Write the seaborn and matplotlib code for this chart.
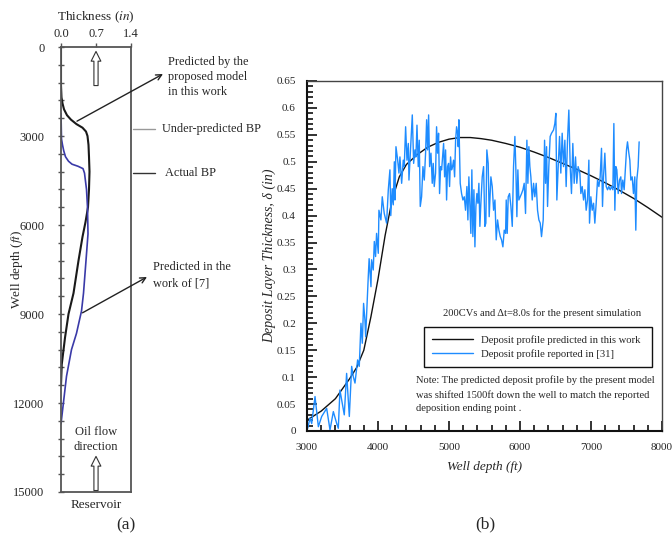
import matplotlib
matplotlib.use('Agg')
import seaborn as sns
from matplotlib import pyplot as plt
from matplotlib.ticker import MultipleLocator, FuncFormatter

# ---- panel (a): deposit thickness along the whole well ----
a_depth_this_work = [0, 1300, 1700, 1900, 2100, 2300, 2450, 2600, 2720, 2850, 3000, 3300, 3700,
                     4200, 4800, 5400, 5900, 6400, 7200, 8300, 9000, 9800, 10700, 11400]
a_thick_this_work = [0, 0, 0.01, 0.03, 0.06, 0.12, 0.20, 0.31, 0.43, 0.50, 0.53, 0.55, 0.56,
                     0.57, 0.56, 0.54, 0.49, 0.43, 0.35, 0.25, 0.15, 0.08, 0.015, 0]
a_depth_ref7 = [2250, 3100, 3300, 3500, 3700, 3850, 3950, 4020, 4100, 4250, 4800, 5400, 6300,
                7200, 8300, 8900, 9650, 10200, 11100, 12700]
a_thick_ref7 = [0, 0.01, 0.03, 0.055, 0.09, 0.15, 0.22, 0.34, 0.44, 0.47, 0.51, 0.53, 0.54,
                0.50, 0.45, 0.41, 0.31, 0.21, 0.11, 0]
a_depth_ticks = [0, 3000, 6000, 9000, 12000, 15000]
a_thick_ticks = [0.0, 0.7, 1.4]
under_bp_depth = 2760
actual_bp_depth = 4250

# ---- panel (b): model vs. reported field profile ----
b_depth_model = [3000, 3200, 3400, 3600, 3700, 3800, 3900, 4000, 4100, 4200, 4300, 4400, 4550,
                 4700, 4850, 5000, 5150, 5300, 5450, 5600, 5800, 6000, 6200, 6400, 6600, 6800,
                 7000, 7200, 7400, 7600, 7800, 8000]
b_thick_model = [0.020, 0.037, 0.060, 0.097, 0.118, 0.150, 0.212, 0.282, 0.363, 0.430, 0.472,
                 0.495, 0.513, 0.527, 0.536, 0.542, 0.545, 0.545, 0.543, 0.540, 0.534, 0.527,
                 0.518, 0.508, 0.497, 0.486, 0.474, 0.461, 0.447, 0.432, 0.415, 0.397]

b_depth_field = [
    3010, 3042, 3066, 3113, 3160, 3207, 3277, 3324, 3371, 3418, 3441, 3464, 3497, 3525, 3558,
    3596, 3629, 3652, 3676, 3713, 3736, 3760, 3779, 3797, 3816, 3826, 3840, 3863, 3875, 3901,
    3910, 3933, 3948, 3966, 3980, 4004, 4013, 4041, 4060, 4088, 4121, 4145, 4168, 4180, 4200,
    4215, 4230,
    4239, 4253, 4277, 4295, 4309, 4333, 4356, 4370, 4389, 4408, 4427, 4436, 4455, 4483, 4502,
    4520, 4534, 4549, 4567, 4581, 4595, 4614, 4633, 4652, 4670, 4685, 4699, 4713, 4727, 4746,
    4764, 4778, 4792, 4811, 4825, 4839, 4853, 4867, 4882, 4896, 4910, 4924, 4938, 4952, 4966,
    4980, 4994, 5008, 5022, 5036, 5050, 5064, 5079, 5093, 5107, 5121, 5130, 5139, 5158, 5177,
    5196, 5215, 5233, 5252, 5266, 5280, 5294, 5308, 5322, 5336, 5351, 5365, 5379, 5393, 5407,
    5421, 5435, 5449, 5468, 5487, 5505, 5519, 5533, 5552, 5566,
    5590, 5609, 5628, 5647, 5665, 5684, 5703, 5722, 5740, 5759, 5778, 5797, 5806, 5820, 5834,
    5853, 5872, 5891, 5909, 5928, 5942, 5956, 5970, 5984, 6003, 6022, 6041, 6059, 6078, 6097,
    6111, 6125, 6139, 6153, 6172, 6191, 6209, 6228, 6247, 6266, 6285, 6303, 6327, 6346, 6360,
    6374, 6388, 6406, 6425, 6444, 6472, 6491, 6505, 6519, 6538, 6557, 6575, 6594, 6613, 6632,
    6650, 6669, 6688, 6707, 6725, 6744, 6763, 6782, 6800, 6819, 6843,
    6857, 6876, 6895, 6914, 6932, 6951, 6970, 6979, 6998, 7017, 7036, 7054, 7073, 7092, 7111,
    7129, 7148, 7162, 7176, 7195, 7214, 7233, 7251, 7270, 7289, 7308, 7322, 7336, 7350, 7364,
    7383, 7401, 7420, 7430, 7448, 7467, 7486, 7500, 7514, 7533, 7547, 7561, 7580, 7598, 7617,
    7631, 7645, 7664, 7678,
]
b_thick_field = [
    0.005, 0.024, 0.014, 0.064, 0.008, 0.027, 0.042, 0.002, 0.036, 0.014, 0.005, 0.076, 0.051, 0.030, 0.107,
    0.027, 0.120, 0.101, 0.089, 0.132, 0.120, 0.200, 0.163, 0.237, 0.206, 0.175, 0.219, 0.287, 0.320, 0.268,
    0.318, 0.299, 0.352, 0.324, 0.367, 0.330, 0.410, 0.392, 0.435, 0.404, 0.386, 0.448, 0.485, 0.400, 0.450,
    0.420, 0.500,
    0.429, 0.528, 0.503, 0.479, 0.509, 0.460, 0.503, 0.491, 0.565, 0.503, 0.534, 0.466, 0.516, 0.587, 0.497,
    0.522, 0.509, 0.568, 0.491, 0.540, 0.417, 0.435, 0.491, 0.466, 0.516, 0.578, 0.522, 0.587, 0.491, 0.516,
    0.460, 0.497, 0.454, 0.479, 0.565, 0.516, 0.553, 0.441, 0.491, 0.485, 0.509, 0.534, 0.472, 0.522, 0.429,
    0.491, 0.497, 0.454, 0.509, 0.485, 0.491, 0.503, 0.472, 0.540, 0.565, 0.553, 0.528, 0.578, 0.460, 0.441,
    0.429, 0.435, 0.410, 0.454, 0.392, 0.472, 0.417, 0.367, 0.485, 0.361, 0.448, 0.342, 0.417, 0.441, 0.423,
    0.460, 0.380, 0.423, 0.472, 0.491, 0.380, 0.386, 0.522, 0.497, 0.398,
    0.472, 0.454, 0.410, 0.429, 0.355, 0.392, 0.373, 0.361, 0.355, 0.342, 0.373, 0.367, 0.429, 0.367, 0.435,
    0.441, 0.417, 0.380, 0.491, 0.547, 0.485, 0.398, 0.485, 0.429, 0.435, 0.441, 0.448, 0.460, 0.404, 0.540,
    0.460, 0.528, 0.491, 0.472, 0.429, 0.460, 0.435, 0.460, 0.410, 0.392, 0.386, 0.361, 0.392, 0.540, 0.460,
    0.528, 0.417, 0.491, 0.547, 0.553, 0.559, 0.571, 0.590, 0.429, 0.491, 0.547, 0.479, 0.553, 0.491, 0.540,
    0.454, 0.540, 0.596, 0.491, 0.441, 0.534, 0.460, 0.509, 0.460, 0.491, 0.479,
    0.441, 0.454, 0.429, 0.448, 0.410, 0.429, 0.503, 0.386, 0.435, 0.410, 0.423, 0.386, 0.423, 0.466, 0.454,
    0.472, 0.525, 0.417, 0.472, 0.516, 0.454, 0.448, 0.454, 0.448, 0.454, 0.448, 0.571, 0.410, 0.491, 0.485,
    0.441, 0.466, 0.472, 0.441, 0.466, 0.448, 0.491, 0.522, 0.537, 0.516, 0.503, 0.466, 0.472, 0.441, 0.472,
    0.373, 0.466, 0.491, 0.537,
]

sns.set_style('ticks')
plt.rcParams['font.family'] = ['Liberation Serif', 'DejaVu Serif']
plt.rcParams['mathtext.fontset'] = 'stix'

W, H = 672, 535
fig = plt.figure(figsize=(W / 100, H / 100), dpi=100)


def fx(px):
    return px / W


def fy(py):
    return 1 - py / H


ax_a = fig.add_axes([fx(61), fy(492), (131 - 61) / W, (492 - 47) / H])
ax_b = fig.add_axes([fx(307), fy(431), (662 - 307) / W, (431 - 81) / H])

# ---------------- (a) ----------------
sns.lineplot(x=a_thick_this_work, y=a_depth_this_work, sort=False, estimator=None,
             color='#1a1a1a', lw=1.5, ax=ax_a)
sns.lineplot(x=a_thick_ref7, y=a_depth_ref7, sort=False, estimator=None,
             color='#3a3aa8', lw=1.2, ax=ax_a)
ax_a.xaxis.tick_top()
ax_a.xaxis.set_label_position('top')
ax_a.set_xticks(a_thick_ticks)
ax_a.set_xticklabels([f'{t:.1f}' for t in a_thick_ticks])
ax_a.set_yticks(a_depth_ticks)
ax_a.yaxis.set_minor_locator(MultipleLocator(600))
ax_a.tick_params(axis='y', which='both', direction='inout', length=4, width=1,
                 color='#555', pad=10, labelsize=9)
ax_a.tick_params(axis='x', which='both', direction='out', length=3, width=1,
                 color='#555', pad=2, labelsize=9)
for s in ax_a.spines.values():
    s.set_visible(True)
    s.set_color('#555')
    s.set_linewidth(1.3)
ax_a.set_xlabel('Thickness ($\\it{in}$)', fontsize=9.5)
ax_a.xaxis.set_label_coords(0.5, 1.06)
ax_a.set_ylabel('Well depth ($\\it{ft}$)', fontsize=9.5)
ax_a.yaxis.set_label_coords(-0.52, 0.5)

# hollow flow arrows
hollow = dict(arrowstyle='simple,head_length=0.7,head_width=0.7,tail_width=0.3',
              fc='white', ec='#333', lw=0.8, shrinkA=0, shrinkB=0)
ax_a.annotate('', xy=(0.7, 150), xytext=(0.7, 1300), arrowprops=hollow)
ax_a.annotate('', xy=(0.7, 13800), xytext=(0.7, 14950), arrowprops=hollow)
ax_a.text(0.7, 13230, 'Oil flow\ndirection', ha='center', va='center', fontsize=9, linespacing=1.35)
fig.text(fx(96), fy(505), 'Reservoir', ha='center', va='center', fontsize=9.5)
fig.text(fx(126), fy(525), '(a)', ha='center', va='center', fontsize=12.5)

# callouts
arrow = dict(arrowstyle='->', color='#222', lw=1.0, shrinkA=0, shrinkB=0)
ax_a.annotate('', xy=(fx(163), fy(74)), xycoords='figure fraction', xytext=(0.32, 2500),
              textcoords='data', arrowprops=arrow)
fig.text(fx(168), fy(56), 'Predicted by the\nproposed model\nin this work', ha='left', va='top',
         fontsize=8.8, linespacing=1.32)
ax_a.annotate('', xy=(fx(147), fy(277)), xycoords='figure fraction', xytext=(0.43, 8960),
              textcoords='data', arrowprops=arrow)
fig.text(fx(153), fy(261), 'Predicted in the\nwork of [7]', ha='left', va='top',
         fontsize=8.8, linespacing=1.5)

bp = ax_a.get_yaxis_transform()
ax_a.plot([1.03, 1.34], [under_bp_depth, under_bp_depth], transform=bp, clip_on=False, color='#999', lw=1)
ax_a.text(1.44, under_bp_depth, 'Under-predicted BP', transform=bp, va='center', fontsize=8.8)
ax_a.plot([1.03, 1.34], [actual_bp_depth, actual_bp_depth], transform=bp, clip_on=False, color='#333', lw=1)
ax_a.text(1.49, actual_bp_depth, 'Actual BP', transform=bp, va='center', fontsize=8.8)
ax_a.set_xlim(0, 1.4)
ax_a.set_ylim(15000, 0)

# ---------------- (b) ----------------
sns.lineplot(x=b_depth_model, y=b_thick_model, sort=False, estimator=None, color='#111', lw=1.0,
             label='Deposit profile predicted in this work', ax=ax_b)
sns.lineplot(x=b_depth_field, y=b_thick_field, sort=False, estimator=None, color='#1e8cff', lw=1.0,
             label='Deposit profile reported in [31]', ax=ax_b)
ax_b.set_xlim(3000, 8000)
ax_b.set_ylim(0, 0.65)
ax_b.xaxis.set_major_locator(MultipleLocator(1000))
ax_b.xaxis.set_minor_locator(MultipleLocator(200))
ax_b.yaxis.set_major_locator(MultipleLocator(0.05))
ax_b.yaxis.set_minor_locator(MultipleLocator(0.01))
ax_b.yaxis.set_major_formatter(FuncFormatter(lambda v, p: f'{v:g}'))
ax_b.tick_params(which='both', direction='in', top=False, right=False, width=1.2, color='#111', labelsize=8)
ax_b.tick_params(which='major', length=7)
ax_b.tick_params(axis='x', which='major', pad=9)
ax_b.tick_params(axis='y', which='major', pad=8)
ax_b.tick_params(which='minor', length=4)
for side in ['left', 'bottom']:
    ax_b.spines[side].set_color('#111')
    ax_b.spines[side].set_linewidth(1.5)
for side in ['top', 'right']:
    ax_b.spines[side].set_visible(True)
    ax_b.spines[side].set_color('#444')
    ax_b.spines[side].set_linewidth(1.0)
ax_b.set_xlabel('Well depth (ft)', fontsize=9.5, style='italic')
ax_b.xaxis.set_label_coords(0.5, -0.085)
ax_b.set_ylabel('Deposit Layer Thickness, δ (in)', fontsize=10, style='italic')
ax_b.yaxis.set_label_coords(-0.087, 0.5)

leg = ax_b.legend(loc='center', bbox_to_anchor=(0.33, 0.18, 0.642, 0.12), mode='expand',
                  borderaxespad=0, fontsize=7.7, frameon=True, fancybox=False, edgecolor='#111',
                  handlelength=3.8, handletextpad=0.8, borderpad=0.75, labelspacing=0.4)
leg.get_frame().set_linewidth(1.0)
leg.get_frame().set_alpha(1)

ax_b.text(0.662, 0.337, '200CVs and Δt=8.0s for the present simulation', transform=ax_b.transAxes,
          ha='center', va='center', fontsize=7.6)
ax_b.text(0.307, 0.158, 'Note: The predicted deposit profile by the present model\n'
          'was shifted 1500ft down the well to match the reported\n'
          'deposition ending point .', transform=ax_b.transAxes, ha='left', va='top',
          fontsize=7.6, linespacing=1.58)
fig.text(fx(485), fy(524), '(b)', ha='center', va='center', fontsize=12.5)

fig.savefig('out.png', dpi=100)
